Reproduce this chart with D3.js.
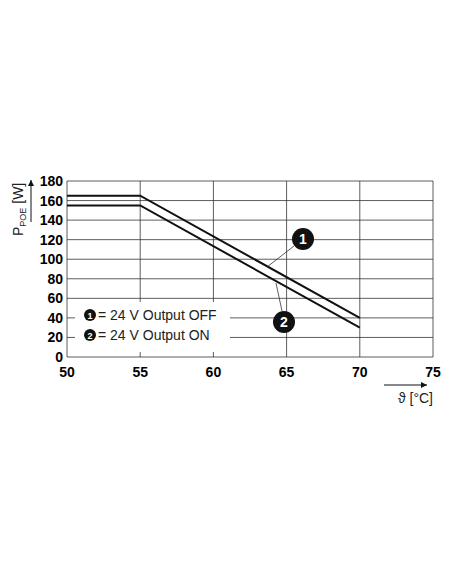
<!DOCTYPE html>
<html><head><meta charset="utf-8">
<script src="https://cdn.jsdelivr.net/npm/d3@7"></script>
<style>body{margin:0;background:#fff}</style>
</head><body>
<script>
// curve data
var tempValues = [50, 55, 70];
var powerOff = [165, 165, 40];
var powerOn = [155, 155, 30];
var xTicks = [50, 55, 60, 65, 70, 75];
var yTicks = [0, 20, 40, 60, 80, 100, 120, 140, 160, 180];
var legendLabels = ['= 24 V Output OFF', '= 24 V Output ON'];

var svg = d3.select('body').append('svg').attr('width', 452).attr('height', 584);
var x = d3.scaleLinear().domain([50, 75]).range([67, 433]);
var y = d3.scaleLinear().domain([0, 180]).range([357, 181]);
var font = 'Liberation Sans, Arial, sans-serif';

// grid
svg.append('g').selectAll('line').data(xTicks).enter().append('line')
    .attr('x1', d => x(d)).attr('x2', d => x(d)).attr('y1', y(0)).attr('y2', y(180))
    .attr('stroke', '#333').attr('stroke-width', 0.8);
svg.append('g').selectAll('line').data(yTicks).enter().append('line')
    .attr('x1', x(50)).attr('x2', x(75)).attr('y1', d => y(d)).attr('y2', d => y(d))
    .attr('stroke', '#333').attr('stroke-width', 0.8);

// tick labels
svg.append('g').selectAll('text').data(xTicks).enter().append('text')
    .attr('x', d => x(d)).attr('y', y(0) + 20).attr('text-anchor', 'middle')
    .attr('font-family', font).attr('font-weight', 'bold').attr('font-size', 14).text(d => d);
svg.append('g').selectAll('text').data(yTicks).enter().append('text')
    .attr('x', x(50) - 4).attr('y', d => y(d) + 5).attr('text-anchor', 'end')
    .attr('font-family', font).attr('font-weight', 'bold').attr('font-size', 14).text(d => d);

// legend box
svg.append('rect').attr('x', 75).attr('y', 302).attr('width', 155).attr('height', 50).attr('fill', '#fff');
legendLabels.forEach(function(t, i){
    var cy = 315 + i * 20;
    svg.append('circle').attr('cx', 90).attr('cy', cy).attr('r', 6).attr('fill', '#111');
    svg.append('text').attr('x', 90).attr('y', cy + 3.5).attr('text-anchor', 'middle')
        .attr('fill', '#fff').attr('font-family', font).attr('font-weight', 'bold').attr('font-size', 9).text(i + 1);
    svg.append('text').attr('x', 98).attr('y', cy + 5).attr('font-family', font)
        .attr('font-size', 14).attr('fill', '#222').text(t);
});

// curves
var line = d3.line().x(d => x(d[0])).y(d => y(d[1]));
[powerOff, powerOn].forEach(function(s){
    svg.append('path').datum(tempValues.map((t, i) => [t, s[i]])).attr('d', line)
        .attr('fill', 'none').attr('stroke', '#111').attr('stroke-width', 2);
});

// callouts
var callouts = [
    {n: 1, cx: 303, cy: 239, x1: 294, y1: 246, x2: 267, y2: 267},
    {n: 2, cx: 284, cy: 322, x1: 282, y1: 311, x2: 276, y2: 283}
];
callouts.forEach(function(c){
    svg.append('line').attr('x1', c.x1).attr('y1', c.y1).attr('x2', c.x2).attr('y2', c.y2)
        .attr('stroke', '#333').attr('stroke-width', 0.8);
    svg.append('circle').attr('cx', c.cx).attr('cy', c.cy).attr('r', 11).attr('fill', '#111');
    svg.append('text').attr('x', c.cx).attr('y', c.cy + 5).attr('text-anchor', 'middle')
        .attr('fill', '#fff').attr('font-family', font).attr('font-weight', 'bold').attr('font-size', 14).text(c.n);
});

// axis arrows and titles
var defs = svg.append('defs');
defs.append('marker').attr('id', 'arr').attr('viewBox', '0 0 10 10').attr('refX', 10).attr('refY', 5)
    .attr('markerWidth', 10).attr('markerHeight', 6).attr('markerUnits', 'userSpaceOnUse').attr('orient', 'auto')
    .append('path').attr('d', 'M0,0L10,5L0,10z').attr('fill', '#111');
svg.append('line').attr('x1', 31).attr('y1', 222).attr('x2', 31).attr('y2', 180)
    .attr('stroke', '#111').attr('marker-end', 'url(#arr)');
svg.append('line').attr('x1', 384).attr('y1', 385).attr('x2', 427).attr('y2', 385)
    .attr('stroke', '#111').attr('marker-end', 'url(#arr)');

var yl = svg.append('text').attr('transform', 'translate(23,236) rotate(-90)')
    .attr('font-family', font).attr('font-size', 14).attr('fill', '#222');
yl.append('tspan').text('P');
yl.append('tspan').attr('font-size', 9).attr('dy', 3).text('POE');
yl.append('tspan').attr('dy', -3).text(' [W]');

svg.append('text').attr('x', 433).attr('y', 403).attr('text-anchor', 'end')
    .attr('font-family', font).attr('font-size', 14).attr('fill', '#222').text('ϑ [°C]');
</script>
</body></html>
